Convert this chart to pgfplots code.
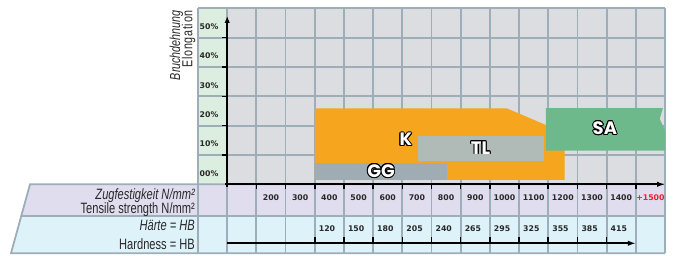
\documentclass[border=0pt]{standalone}
\usepackage{pgfplots}
\pgfplotsset{compat=1.18}
\usetikzlibrary{arrows.meta}
\usepackage{fontspec}
\setmainfont{Liberation Sans}
\newfontfamily\condf[FakeStretch=0.74]{Liberation Sans}
\newfontfamily\elongf[FakeStretch=0.74, LetterSpace=5]{Liberation Sans}
\newfontfamily\tickf{DejaVu Sans}
\newfontfamily\bandf{Poppins}
\usepackage{contour}
\contourlength{0.9pt}
\definecolor{plotbg}{RGB}{220,221,224}
\definecolor{labcol}{RGB}{220,238,224}
\definecolor{rowA}{RGB}{224,221,238}
\definecolor{rowB}{RGB}{222,242,250}
\definecolor{gridc}{RGB}{158,174,184}
\definecolor{cK}{RGB}{246,166,30}
\definecolor{cGG}{RGB}{160,172,180}
\definecolor{cTL}{RGB}{176,186,182}
\definecolor{cSA}{RGB}{110,185,140}
\definecolor{tickc}{RGB}{40,40,40}
\definecolor{redc}{RGB}{232,32,40}
\tikzset{
  bandtop/.style={font=\bandf\bfseries\fontsize{18}{18}\selectfont, text=white},
  tlab/.style={text=tickc, font=\tickf\bfseries\fontsize{7.8}{9}\selectfont},
}
\begin{document}
\begin{tikzpicture}
\begin{axis}[scale only axis, width=467pt, height=245pt,
  xmin=0, xmax=1600, ymin=-23.52, ymax=60, hide axis, clip=false]
% bounding box of the whole picture
\path (axis cs:-678.4,-24.44) rectangle (axis cs:1627.4,62.83);
% backgrounds
\fill[plotbg] (axis cs:100,0) rectangle (axis cs:1600,60);
\fill[labcol] (axis cs:0,0) rectangle (axis cs:100,60);
\fill[rowA] (axis cs:-575.6,0) -- (axis cs:1600,0) -- (axis cs:1600,-10.7) -- (axis cs:-607.4,-10.7) -- cycle;
\fill[rowB] (axis cs:-607.4,-10.7) -- (axis cs:1600,-10.7) -- (axis cs:1600,-23.52) -- (axis cs:-640.7,-23.52) -- cycle;
% grid
\pgfplotsinvokeforeach{0,100,...,1600}{
  \draw[gridc, line width=1.8pt] (axis cs:#1,-23.52) -- (axis cs:#1,60);
}
\pgfplotsinvokeforeach{10,20,...,60}{
  \draw[gridc, line width=1.8pt] (axis cs:0,#1) -- (axis cs:1600,#1);
}
\draw[gridc, line width=1.8pt, line join=miter] (axis cs:1600,0) -- (axis cs:-575.6,0) -- (axis cs:-640.7,-23.52) -- (axis cs:1600,-23.52);
\draw[gridc, line width=1.8pt] (axis cs:-607.4,-10.7) -- (axis cs:1600,-10.7);
% bands
\addplot[fill=cK, draw=none] coordinates {(400,25.9) (1058,25.9) (1256,17.5) (1256,1.53) (400,1.53)} -- cycle;
\addplot[fill=cGG, draw=none] coordinates {(400,7.4) (853,7.4) (853,1.53) (400,1.53)} -- cycle;
\addplot[fill=cTL, draw=none] coordinates {(753,16.6) (1184,16.6) (1184,8.05) (753,8.05)} -- cycle;
\addplot[fill=cSA, draw=none] coordinates {(1192,26.0) (1593,26.0) (1582,22.3) (1600,18.5) (1600,11.45) (1192,11.45)} -- cycle;
% band labels
\node[bandtop] at (axis cs:712,15.1) {\contour{black}{K}};
\node[bandtop] at (axis cs:968,12.3) {\contour{black}{TL}};
\node[bandtop] at (axis cs:627,4.4) {\contour{black}{GG}};
\node[bandtop] at (axis cs:1394,19.0) {\contour{black}{SA}};
% axes
\draw[black, line width=1.8pt, -{Latex[length=7pt,width=5.5pt]}] (axis cs:100,-0.8) -- (axis cs:100,57.4);
\draw[black, line width=1.8pt, -{Latex[length=8pt,width=5.5pt]}] (axis cs:94,0) -- (axis cs:1600,0);
\draw[black, line width=1.8pt, -{Latex[length=8pt,width=5.5pt]}] (axis cs:100,-20.1) -- (axis cs:1500,-20.1);
\pgfplotsinvokeforeach{200,300,...,1500}{
  \draw[black, line width=1.6pt] (axis cs:#1,0) -- (axis cs:#1,-1.6);
}
\pgfplotsinvokeforeach{10,20,...,50}{
  \draw[black, line width=1.6pt] (axis cs:100,#1) -- (axis cs:82,#1);
}
\pgfplotsinvokeforeach{400,500,...,1400}{
  \draw[black, line width=1.6pt] (axis cs:#1,-20.1) -- (axis cs:#1,-18.0);
}
% y tick labels
\pgfplotsinvokeforeach{0,1,...,5}{
  \node[anchor=east, tlab] at (axis cs:82,#1*10+3.7) {#10\%};
}
% tensile strength labels
\pgfplotsinvokeforeach{2,3,...,14}{
  \node[tlab] at (axis cs:#1*100+50,-4.43) {#100};
}
\node[tlab, text=redc] at (axis cs:1550,-4.43) {+1500};
% hardness labels
\node[anchor=west, tlab] at (axis cs:402,-15.0) {120};
\node[anchor=west, tlab] at (axis cs:502,-15.0) {150};
\node[anchor=west, tlab] at (axis cs:602,-15.0) {180};
\node[anchor=west, tlab] at (axis cs:702,-15.0) {205};
\node[anchor=west, tlab] at (axis cs:802,-15.0) {240};
\node[anchor=west, tlab] at (axis cs:902,-15.0) {265};
\node[anchor=west, tlab] at (axis cs:1002,-15.0) {295};
\node[anchor=west, tlab] at (axis cs:1102,-15.0) {325};
\node[anchor=west, tlab] at (axis cs:1202,-15.0) {355};
\node[anchor=west, tlab] at (axis cs:1302,-15.0) {385};
\node[anchor=west, tlab] at (axis cs:1402,-15.0) {415};
% row labels
\node[anchor=base east, inner sep=0pt, text=tickc, font=\condf\itshape\fontsize{15}{15}\selectfont] at (axis cs:-10.3,-5.35) {Zugfestigkeit N/mm²};
\node[anchor=base east, inner sep=0pt, text=tickc, font=\condf\fontsize{15}{15}\selectfont] at (axis cs:-10.3,-9.89) {Tensile strength N/mm²};
\node[anchor=base east, inner sep=0pt, text=tickc, font=\condf\itshape\fontsize{15}{15}\selectfont] at (axis cs:-10.3,-15.58) {Härte = HB};
\node[anchor=base east, inner sep=0pt, text=tickc, font=\condf\fontsize{15}{15}\selectfont] at (axis cs:-10.3,-22.06) {Hardness = HB};
% rotated axis title
\node[rotate=90, anchor=base east, inner sep=0pt, text=tickc, font=\condf\itshape\fontsize{14.5}{15}\selectfont] at (axis cs:-61,59.4) {Bruchdehnung};
\node[rotate=90, anchor=base east, inner sep=0pt, text=tickc, font=\elongf\fontsize{14.5}{15}\selectfont] at (axis cs:-19,59.4) {Elongation};
\end{axis}
\end{tikzpicture}
\end{document}
